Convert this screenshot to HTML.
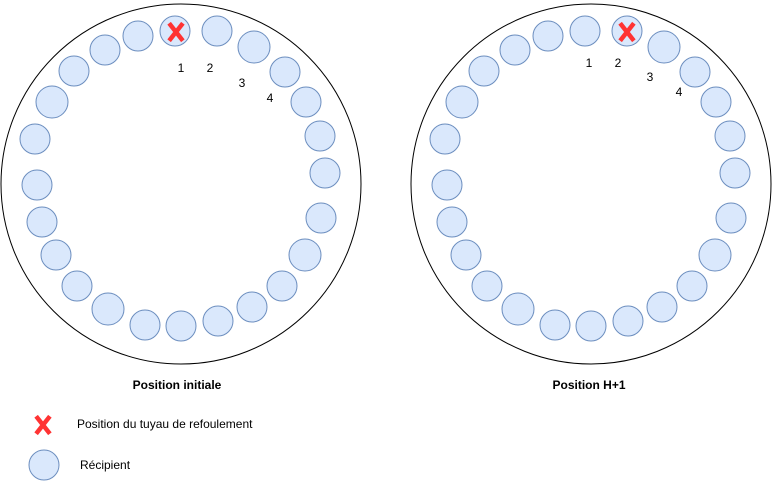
<!DOCTYPE html>
<html><head><meta charset="utf-8"><style>html,body{margin:0;padding:0;background:#fff}svg{display:block}</style></head>
<body>
<svg width="772" height="481" viewBox="0 0 772 481" xmlns="http://www.w3.org/2000/svg" font-family="Liberation Sans, Arial, sans-serif">
<defs>
<g id="ring">
<circle cx="181" cy="184" r="180" fill="#fff" stroke="#000" stroke-width="1"/>
<g fill="#dae8fc" stroke="#6c8ebf" stroke-width="1">
<circle cx="175" cy="31" r="15"/><circle cx="217" cy="31" r="15"/><circle cx="254" cy="47" r="16"/>
<circle cx="285" cy="72" r="15"/><circle cx="306" cy="102" r="15"/><circle cx="320" cy="136" r="15"/>
<circle cx="325" cy="173" r="15"/><circle cx="321" cy="218" r="15"/><circle cx="305" cy="255" r="16"/>
<circle cx="282" cy="286" r="15"/><circle cx="252" cy="307" r="15"/><circle cx="218" cy="321" r="15"/>
<circle cx="181" cy="326" r="15"/><circle cx="145" cy="325" r="15"/><circle cx="108" cy="309" r="16"/>
<circle cx="77" cy="286" r="15"/><circle cx="56" cy="255" r="15"/><circle cx="42" cy="222" r="15"/>
<circle cx="37" cy="185" r="15"/><circle cx="35" cy="139" r="15"/><circle cx="52" cy="102" r="16"/>
<circle cx="74" cy="71" r="15"/><circle cx="105" cy="50" r="15"/><circle cx="138" cy="36" r="15"/>
</g>
</g>
<g id="x"><path d="M-5.5,-7 L5.5,7 M5.5,-7 L-5.5,7" stroke="#f33" stroke-width="4.5" stroke-linecap="square"/></g>
</defs>
<use href="#ring"/>
<use href="#ring" x="410"/>
<use href="#x" x="176" y="32"/>
<use href="#x" x="627" y="32"/>
<g font-size="12" fill="#000" text-anchor="middle">
<text x="181" y="72">1</text><text x="210" y="72">2</text><text x="242" y="87">3</text><text x="270" y="102">4</text>
<text x="589" y="67">1</text><text x="618" y="67">2</text><text x="650" y="81">3</text><text x="679" y="96">4</text>
</g>
<g font-size="12" font-weight="bold" text-anchor="middle">
<text x="177" y="389">Position initiale</text>
<text x="589" y="389">Position H+1</text>
</g>
<use href="#x" x="43" y="425"/>
<circle cx="44" cy="465" r="15" fill="#dae8fc" stroke="#6c8ebf"/>
<g font-size="12">
<text x="77" y="428">Position du tuyau de refoulement</text>
<text x="80" y="469">Récipient</text>
</g>
</svg>
</body></html>
